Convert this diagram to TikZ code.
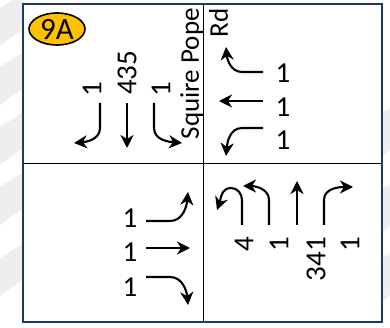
\documentclass[tikz,border=0pt]{standalone}
\usepackage{fontspec}
\setmainfont{Carlito}
\usepackage{tikz}
\usetikzlibrary{arrows.meta, shapes.geometric}

\definecolor{framenavy}{RGB}{31,56,100}
\definecolor{badgegold}{RGB}{255,192,0}

\begin{document}
\begin{tikzpicture}[
    x=1pt, y=-1pt,
    every node/.style={font=\fontsize{29}{32}\selectfont, inner sep=0pt},
    mov/.style={-{Stealth[length=13pt, width=13pt, inset=4pt]}, line width=2.1pt, black},
    vol/.style={rotate=90},
    mark band/.style={fill=gray!13},
  ]
    \useasboundingbox (0,0) rectangle (390,328);
    \def\xm{203.5}
    \def\ym{163.5}

    % faint watermark in the margins
    \foreach \y in {8,67,127,187,258}{
      \fill[mark band] (0,\y) -- (22,{\y-14}) -- (22,{\y+22}) -- (0,{\y+38});
    }
    \foreach \y in {112,188,257}{
      \fill[mark band] (383,\y) -- (390,{\y-4}) -- (390,{\y+38}) -- (383,{\y+44});
    }

    % frame and quadrants
    \draw[line width=1.1pt] (\xm,4) -- (\xm,322);
    \draw[line width=1.1pt] (23,\ym) -- (382,\ym);
    \draw[framenavy, line width=2.4pt] (23,4) rectangle (382,322);

    % badge
    \node[ellipse, draw, line width=1.6pt, fill=badgegold,
          minimum width=56pt, minimum height=32pt,
          font=\fontsize{31}{32}\selectfont] (badge) at (57,29) {9A};

    % street name
    \node[vol, align=right, anchor=north east,
          font=\fontsize{27}{29}\selectfont] (street) at (180,8) {Squire Pope\\Rd};

    % southbound
    \draw[mov] (100,103) -- (100,128) to[out=-90, in=5] (74,143);
    \draw[mov] (127,103) -- (127,148);
    \draw[mov] (154,103) -- (154,128) to[out=-90, in=175] (182,143);
    \node[vol, anchor=west] (sbl) at (92,97) {1};
    \node[vol, anchor=west] (sbt) at (127,95) {435};
    \node[vol, anchor=west] (sbr) at (161,97) {1};

    % westbound
    \draw[mov] (263,72) -- (242,72) to[out=180, in=-85] (226,47);
    \draw[mov] (263,101) -- (219,101);
    \draw[mov] (263,128) -- (242,128) to[out=180, in=85] (226,156);
    \node (wbl) at (283,73) {1};
    \node (wbt) at (283,107) {1};
    \node (wbr) at (283,140) {1};

    % eastbound
    \draw[mov] (146,221) -- (170,221) to[out=0, in=-95] (188,192);
    \draw[mov] (146,248) -- (190,248);
    \draw[mov] (146,277) -- (170,277) to[out=0, in=95] (188,305);
    \node (ebl) at (130,218) {1};
    \node (ebt) at (130,252) {1};
    \node (ebr) at (130,287) {1};

    % northbound
    \draw[mov] (242,225) -- (242,200) to[out=90, in=0] (231,188)
               to[out=180, in=70] (217,210);
    \draw[mov] (269,225) -- (269,200) to[out=90, in=0] (243,186);
    \draw[mov] (297,225) -- (297,181);
    \draw[mov] (324,225) -- (324,200) to[out=90, in=180] (353,187);
    \node[vol, anchor=east] (nbu) at (244,237) {4};
    \node[vol, anchor=east] (nbl) at (279,237) {1};
    \node[vol, anchor=east] (nbt) at (316,237) {341};
    \node[vol, anchor=east] (nbr) at (350,237) {1};
  \end{tikzpicture}
\end{document}
